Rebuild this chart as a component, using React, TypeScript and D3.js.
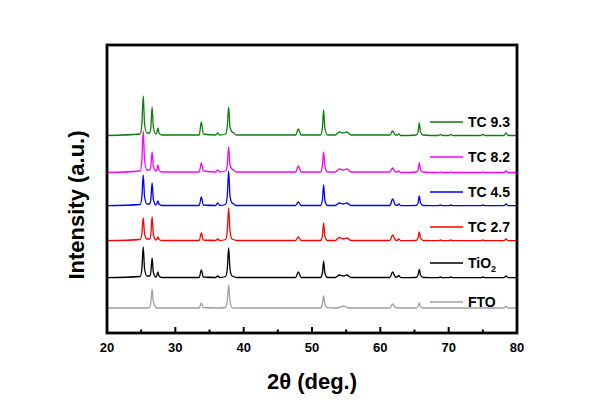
import React from "react";
import * as d3 from "d3";

// 2θ grid (degrees) at which the intensities below are read
const twoTheta = [
  20, 24.85, 25.1, 25.3, 25.5, 25.85, 26.25, 26.42, 26.6, 26.78,
  27.15, 27.28, 27.45, 27.62, 28.0, 33.5, 33.8, 34.1, 35.9, 36.2,
  36.5, 37.35, 37.6, 37.8, 38.0, 38.3, 38.55, 38.9, 47.6, 48.0,
  48.4, 51.25, 51.52, 51.7, 51.88, 52.25, 53.4, 54.0, 54.6, 55.1,
  55.7, 61.4, 61.8, 62.2, 62.45, 62.7, 63.0, 65.25, 65.52, 65.7,
  65.88, 66.25, 68.5, 68.8, 69.1, 70.0, 70.3, 70.6, 74.7, 75.0,
  75.3, 78.1, 78.4, 78.7, 80,
];

const seriesNames = ["FTO", "TiO2", "TC 2.7", "TC 4.5", "TC 8.2", "TC 9.3"];
const seriesColors = ["#a0a0a0", "#000000", "#ff0000", "#0000ff", "#ff00ff", "#0a800a"];
const offsets = [0, 30, 67, 102, 135, 172];

const fto = [
  0, 0, 0, 0, 0, 0, 0.5, 6, 19, 6,
  0.5, 0, 0, 0, 0, 0, 5, 0.5, 0, 0,
  0, 0.5, 7, 23, 7, 0.5, 0, 0, 0, 0,
  0, 0, 4, 12, 4, 0.3, 0, 0.5, 2, 0.5,
  0, 0, 4, 0.3, 0, 0, 0, 0, 1.5, 5,
  1.5, 0, 0, 0, 0, 0, 0, 0, 0, 0,
  0, 0, 1.5, 0, 0,
];
const tio2 = [
  0.3, 1.5, 9, 31, 9, 2, 2, 6, 20, 6,
  1, 2, 6, 2, 0.5, 0.5, 8, 1, 0.5, 2,
  0.5, 1.5, 9, 30, 9, 2, 1.5, 0.5, 0.5, 6,
  0.5, 0.5, 5, 17, 5, 0.5, 0.5, 3, 2, 3,
  0.5, 0.5, 6, 1, 1, 2.5, 0.3, 0.5, 3, 8.5,
  3, 0.5, 0.3, 1, 0.3, 0.3, 1, 0.3, 0.3, 1,
  0.3, 0.3, 2, 0.3, 0.3,
];
const tc27 = [
  0.3, 1.5, 7, 23, 7, 2, 2, 7, 24, 7,
  1, 1.5, 4, 1.5, 0.5, 0.5, 8, 1, 0.5, 2,
  0.5, 1.5, 10, 33, 10, 2, 1.5, 0.5, 0.5, 4,
  0.5, 0.5, 5, 18, 5, 0.5, 0.5, 3.5, 2, 3,
  0.5, 0.5, 6, 1, 0.5, 2, 0.3, 0.5, 3, 9,
  3, 0.5, 0.3, 1, 0.3, 0.3, 1, 0.3, 0.3, 1,
  0.3, 0.3, 2, 0.3, 0.3,
];
const tc45 = [
  0.3, 1.5, 9, 31, 9, 2, 2, 7, 23, 7,
  1, 2, 5, 2, 0.5, 0.5, 9, 1, 0.5, 3,
  0.5, 1.5, 10, 35, 10, 3, 2, 0.5, 0.5, 4,
  0.5, 0.5, 6, 21, 6, 0.5, 0.5, 3, 2, 3,
  0.5, 0.5, 7, 1, 0.5, 2, 0.3, 0.5, 3, 10,
  3, 0.5, 0.3, 1, 0.3, 0.3, 1, 0.3, 0.3, 1,
  0.3, 0.3, 2, 0.3, 0.3,
];
const tc82 = [
  0.5, 2, 13, 42, 13, 3, 3, 7, 21, 7,
  2, 3, 8, 3, 1, 1, 10, 2, 1, 3,
  1, 2, 8, 26, 8, 4, 3, 1, 1, 7,
  1, 1, 7, 21, 7, 1, 1, 4, 3, 4,
  1, 1, 5, 1, 1, 2, 0.5, 1, 3, 10,
  3, 1, 0.5, 1, 0.5, 0.5, 1, 0.5, 0.5, 1,
  0.5, 0.5, 2, 0.5, 0.5,
];
const tc93 = [
  0.5, 2, 12, 40, 12, 3, 3, 9, 29, 9,
  2, 3, 8, 3, 1, 1, 14, 2, 1, 3,
  1, 2, 9, 29, 9, 4, 3, 1, 1, 7,
  1, 1, 8, 26, 8, 1, 1, 4, 3, 4,
  1, 1, 5, 1, 1, 2, 0.5, 1, 4, 13,
  4, 1, 0.5, 1.5, 0.5, 0.5, 1.5, 0.5, 0.5, 1.5,
  0.5, 0.5, 3, 0.5, 0.5,
];
const seriesValues = [fto, tio2, tc27, tc45, tc82, tc93];

const xTicksMajor = [20, 30, 40, 50, 60, 70, 80];
const xTicksMinor = [25, 35, 45, 55, 65, 75];

const FONT = "'Liberation Sans', Arial, Helvetica, sans-serif";

export default function App() {
  const left = 107, right = 517, top = 45, bottom = 333;
  const x = d3.scaleLinear().domain([20, 80]).range([left, right]);
  const y = d3.scaleLinear().domain([-25, 263]).range([bottom, top]);

  const legendY = [302, 263, 227, 192, 157, 122];

  return (
    <svg width={600} height={400} style={{ position: "absolute", left: 0, top: 0, background: "#fff" }}
      fontFamily={FONT}>
      <rect x={0} y={0} width={600} height={400} fill="#fff" />
      {seriesValues.map((vals, si) => {
        const line = d3.line<number>()
          .x((_, i) => x(twoTheta[i]))
          .y((v) => y(v + offsets[si]))
          .curve(d3.curveMonotoneX);
        return (
          <path key={si} d={line(vals) || ""} fill="none" stroke={seriesColors[si]}
            strokeWidth={1.3} strokeLinejoin="round" />
        );
      })}
      {xTicksMajor.map((t) => (
        <line key={"M" + t} x1={x(t)} x2={x(t)} y1={bottom} y2={bottom - 6} stroke="#000" strokeWidth={2} />
      ))}
      {xTicksMinor.map((t) => (
        <line key={"m" + t} x1={x(t)} x2={x(t)} y1={bottom} y2={bottom - 3.5} stroke="#000" strokeWidth={2} />
      ))}
      <rect x={left} y={top} width={right - left} height={bottom - top} fill="none" stroke="#000" strokeWidth={2.8} />
      {xTicksMajor.map((t) => (
        <text key={"l" + t} x={x(t)} y={352} textAnchor="middle" fontSize={13} fontWeight="bold">{t}</text>
      ))}
      <text x={312} y={389} textAnchor="middle" fontSize={22} fontWeight="bold">2θ (deg.)</text>
      <text transform="translate(84,205) rotate(-90)" textAnchor="middle" fontSize={22} fontWeight="bold">
        Intensity (a.u.)
      </text>
      {seriesNames.map((name, si) => (
        <g key={"lg" + si}>
          <line x1={430} x2={463} y1={legendY[si]} y2={legendY[si]} stroke={seriesColors[si]} strokeWidth={1.3} />
          <text x={468} y={legendY[si] + 5} fontSize={14} fontWeight="bold">
            {name === "TiO2" ? (<>TiO<tspan fontSize={9} dy={4}>2</tspan></>) : name}
          </text>
        </g>
      ))}
    </svg>
  );
}
